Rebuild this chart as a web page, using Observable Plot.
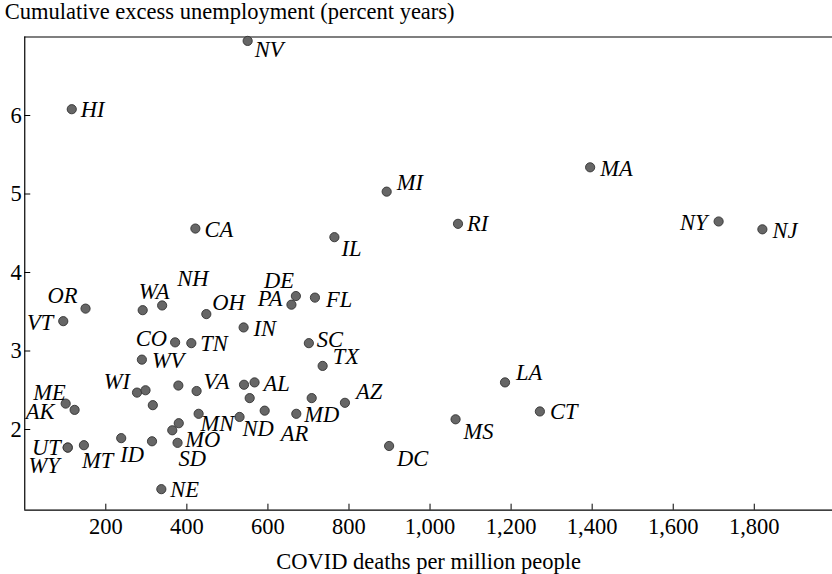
<!DOCTYPE html>
<html>
<head>
<meta charset="utf-8">
<script src="https://cdn.jsdelivr.net/npm/d3@7"></script>
<script src="https://cdn.jsdelivr.net/npm/@observablehq/plot@0.6"></script>
<style>
  html, body { margin: 0; padding: 0; background: #fff; }
  #chart { width: 832px; height: 574px; }
</style>
</head>
<body>
<div id="chart"></div>
<script>
// ---- data ----
const states = ["NV","HI","MI","MA","RI","NY","NJ","CA","IL","DE","PA","FL","OR","VT","WA","NH","OH","IN","CO","TN","SC","WV","TX","WI","VA","ME","AK","UT","WY","MT","ID","MO","SD","MN","ND","NE","AL","MD","AR","AZ","DC","LA","CT","MS",
  "","","","","","","",""];
const deathsPerMillion = [550,116,893,1395,1069,1712,1820,421,764,669,658,716,150,95,291,339,448,540,371,411,701,289,735,277,424,101,123,106,106,146,238,364,377,429,530,337,567,670,592,790,899,1185,1271,1063,
  298,316,379,380,314,541,555,708];
const excessUnemployment = [6.95,6.08,5.03,5.34,4.62,4.65,4.55,4.56,4.45,3.70,3.59,3.68,3.54,3.38,3.52,3.58,3.47,3.30,3.11,3.10,3.10,2.89,2.81,2.47,2.49,2.33,2.25,1.77,1.77,1.80,1.89,1.99,1.83,2.20,2.16,1.24,2.60,2.20,2.24,2.34,1.79,2.60,2.23,2.13,
  2.50,2.31,2.56,2.08,1.85,2.57,2.40,2.40];
const xTicks = [200,400,600,800,1000,1200,1400,1600,1800];
const yTicks = [2,3,4,5,6];
const titleText = "Cumulative excess unemployment (percent years)";
const xLabelText = "COVID deaths per million people";

// ---- label placement (anchor, dx, dy in px relative to the dot) ----
const labelPlacement = {
  NV:["start",7,9], HI:["start",9,1], MI:["start",10,-9], MA:["start",10,1], RI:["start",9,0],
  NY:["end",-11,1], NJ:["start",10,1], CA:["start",9,1], IL:["start",7,12], DE:["end",-2,-15],
  PA:["end",-9,-6], FL:["start",11,2], OR:["end",-8,-13], VT:["end",-10,2], WA:["start",-4,-18],
  NH:["start",15,-27], OH:["start",6,-11], IN:["start",10,1], CO:["end",-8,-4], TN:["start",9,1],
  SC:["start",8,-3], WV:["start",10,1], TX:["start",10,-9], WI:["end",-7,-11], VA:["start",7,-9],
  ME:["end",0,-11], AK:["end",-20,2], UT:["end",-7,0], WY:["end",-8,18], MT:["start",-2,16],
  ID:["start",-1,17], MO:["start",13,10], SD:["start",1,16], MN:["start",2,10], ND:["start",3,12],
  NE:["start",9,1], AL:["start",9,1], MD:["start",8,1], AR:["start",16,23], AZ:["start",11,-11],
  DC:["start",8,13], LA:["start",11,-10], CT:["start",10,0], MS:["start",8,13]
};

const rows = states.map((s, i) => ({state: s, x: deathsPerMillion[i], y: excessUnemployment[i]}));
const labelled = rows.filter(d => d.state !== "");

const font = "'Liberation Serif', 'Times New Roman', serif";
const fs = 22.5;
const yDomain = [0.972, 7];
const xDomain = [0, 1993];

const labelMarks = labelled.map(d => {
  const [anchor, dx, dy] = labelPlacement[d.state];
  return Plot.text([d], {x: "x", y: "y", text: "state", textAnchor: anchor, dx, dy,
    fontStyle: "italic", fontSize: fs, fill: "#000"});
});

const chart = Plot.plot({
  width: 832,
  height: 574,
  marginLeft: 24.25,
  marginRight: 0,
  marginTop: 36.5,
  marginBottom: 64.3,
  style: {fontFamily: font, fontSize: fs + "px", color: "#000", background: "#fff", overflow: "visible"},
  x: {domain: xDomain},
  y: {domain: yDomain},
  marks: [
    Plot.ruleY([yDomain[1]], {stroke: "#000", strokeWidth: 1.2}),
    Plot.ruleY([yDomain[0]], {stroke: "#000", strokeWidth: 1.2}),
    Plot.ruleX([xDomain[0]], {stroke: "#000", strokeWidth: 1.2}),
    Plot.axisX({ticks: xTicks, tickFormat: d3.format(","), tickSize: -6, tickPadding: 13.6,
      label: xLabelText, labelAnchor: "center", labelArrow: "none", labelOffset: 58.8, fontSize: fs}),
    Plot.axisY({ticks: yTicks, tickFormat: d3.format("d"), tickSize: -6, tickPadding: 9,
      label: titleText, labelAnchor: "top", labelArrow: "none", labelOffset: 20, fontSize: fs}),
    Plot.dot(rows, {x: "x", y: "y", r: 4.6, fill: "#666", stroke: "#333", strokeWidth: 0.9}),
    ...labelMarks
  ]
});
document.getElementById("chart").appendChild(chart);
</script>
</body>
</html>
